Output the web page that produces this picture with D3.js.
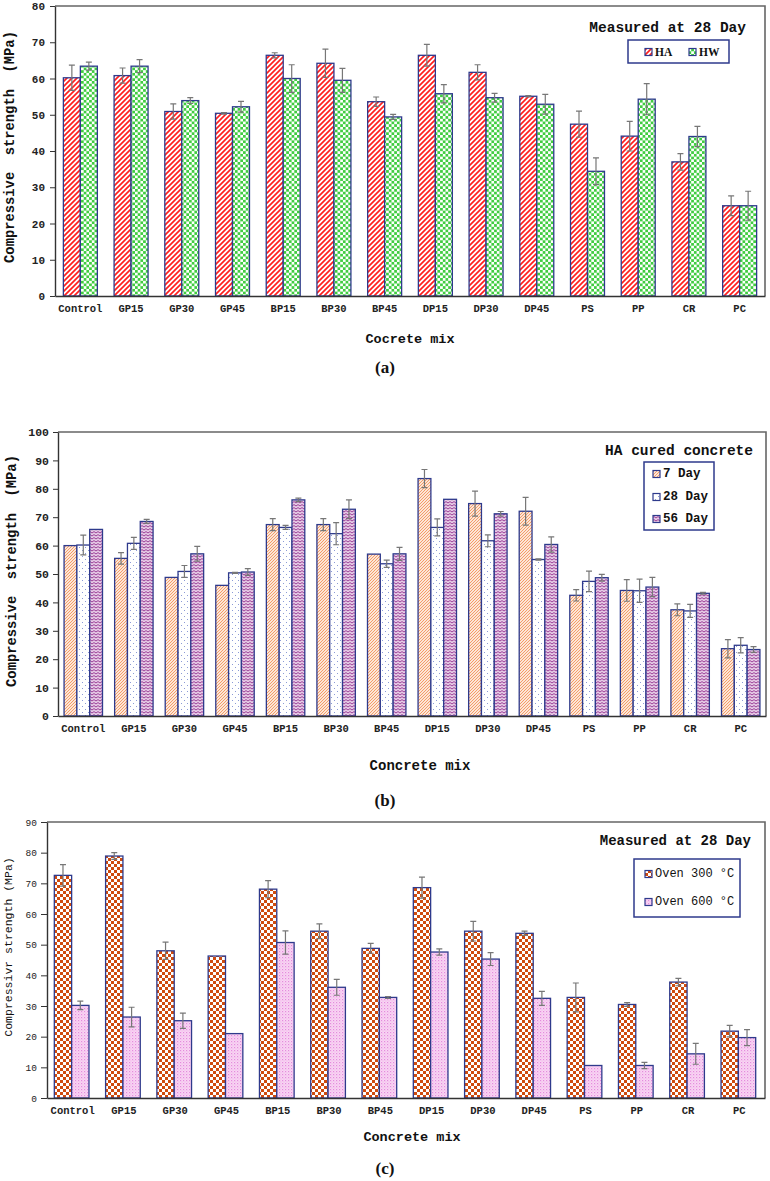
<!DOCTYPE html>
<html><head><meta charset="utf-8">
<script src="https://cdn.jsdelivr.net/npm/d3@7"></script>
<style>html,body{margin:0;padding:0;background:#fff;}svg{display:block;}</style>
</head><body>
<svg id="chart" width="770" height="1181"></svg>
<script>
// ---------- DATA ----------
const categories = ["Control","GP15","GP30","GP45","BP15","BP30","BP45","DP15","DP30","DP45","PS","PP","CR","PC"];

// (a) Measured at 28 Day
const seriesA = ["HA","HW"];
const haValues = [60.2,60.8,50.9,50.4,66.4,64.2,53.6,66.4,61.7,55.1,47.4,44.1,37.0,24.9];
const haErrors = [3.5,2.1,2.1,0.2,0.7,3.9,1.3,3.0,2.1,0.2,3.6,4.1,2.3,2.7];
const hwValues = [63.4,63.4,53.9,52.2,60.0,59.5,49.4,55.8,54.7,52.9,34.4,54.3,44.0,24.9];
const hwErrors = [1.1,1.8,0.8,1.5,3.8,3.3,0.7,2.5,1.2,2.7,3.7,4.3,2.8,4.0];
const ticksA = [0,10,20,30,40,50,60,70,80];

// (b) HA cured concrete
const seriesB = ["7 Day","28 Day","56 Day"];
const day7Values = [60.0,55.5,48.8,46.0,67.4,67.4,57.0,83.6,74.8,72.1,42.5,44.2,37.4,23.7];
const day7Errors = [0,2.0,0,0,2.1,2.1,0,3.2,4.4,4.9,2.0,3.8,2.1,3.2];
const day28Values = [60.2,60.8,50.9,50.4,66.4,64.2,53.6,66.4,61.7,55.1,47.4,44.1,37.0,24.9];
const day28Errors = [3.5,2.1,2.1,0.2,0.7,3.9,1.3,3.0,2.1,0.2,3.6,4.1,2.3,2.7];
const day56Values = [65.7,68.5,57.1,50.7,76.1,72.8,57.1,76.3,71.2,60.4,48.7,45.4,43.2,23.4];
const day56Errors = [0,0.7,2.6,1.2,0.6,3.3,2.3,0,0.8,2.7,1.2,3.4,0.3,1.0];
const ticksB = [0,10,20,30,40,50,60,70,80,90,100];

// (c) Measured at 28 Day, oven
const seriesC = ["Oven 300 °C","Oven 600 °C"];
const oven300Values = [72.6,78.9,48.0,46.3,68.1,54.4,48.8,68.6,54.4,53.7,32.8,30.5,37.8,21.8];
const oven300Errors = [3.5,1.1,2.8,0,2.8,2.4,1.6,3.4,3.2,0.7,4.7,0.6,1.2,1.9];
const oven600Values = [30.2,26.4,25.2,21.0,50.7,36.1,32.8,47.6,45.3,32.5,10.6,10.6,14.4,19.7];
const oven600Errors = [1.4,3.2,2.5,0,3.8,2.6,0.3,1.0,2.1,2.3,0,1.0,3.4,2.6];
const ticksC = [0,10,20,30,40,50,60,70,80,90];

// ---------- PATTERNS ----------
const svg = d3.select("#chart");
const defs = svg.append("defs");
function pat(id, w, h, draw){
  const p = defs.append("pattern").attr("id", id).attr("patternUnits","userSpaceOnUse")
    .attr("width", w).attr("height", h);
  draw(p);
}
// red diagonal stripes
pat("pHA", 5, 5, p => {
  p.append("rect").attr("width",5).attr("height",5).attr("fill","#fff");
  p.append("path").attr("d","M-1,6 L6,-1 M-1,1 L1,-1 M4,6 L6,4").attr("stroke","#ff1f1f").attr("stroke-width",1.7);
});
// green checker
pat("pHW", 5.4, 5.4, p => {
  p.append("rect").attr("width",5.4).attr("height",5.4).attr("fill","#fff");
  p.append("rect").attr("width",2.7).attr("height",2.7).attr("fill","#40cc40");
  p.append("rect").attr("x",2.7).attr("y",2.7).attr("width",2.7).attr("height",2.7).attr("fill","#40cc40");
});
// orange fine hatch
pat("p7", 3, 3, p => {
  p.append("rect").attr("width",3).attr("height",3).attr("fill","#fde6d6");
  p.append("path").attr("d","M-1,4 L4,-1 M-1,1 L1,-1 M2,4 L4,2").attr("stroke","#f2945c").attr("stroke-width",0.9);
});
// sparse blue dots
pat("p28", 6, 6, p => {
  p.append("rect").attr("width",6).attr("height",6).attr("fill","#fff");
  p.append("rect").attr("x",1).attr("y",1).attr("width",1).attr("height",1).attr("fill","#8c9ad6");
  p.append("rect").attr("x",4).attr("y",4).attr("width",1).attr("height",1).attr("fill","#8c9ad6");
});
// purple zigzag
pat("p56", 4, 3, p => {
  p.append("rect").attr("width",4).attr("height",3).attr("fill","#e6cce6");
  p.append("path").attr("d","M0,2 L2,0.6 L4,2").attr("stroke","#9a3c96").attr("stroke-width",1).attr("fill","none");
});
// orange-brown checker
pat("p300", 6, 6, p => {
  p.append("rect").attr("width",6).attr("height",6).attr("fill","#fff");
  p.append("rect").attr("width",3).attr("height",3).attr("fill","#cf4b0e");
  p.append("rect").attr("x",3).attr("y",3).attr("width",3).attr("height",3).attr("fill","#cf4b0e");
});
// pink dotted
pat("p600", 3, 3, p => {
  p.append("rect").attr("width",3).attr("height",3).attr("fill","#f8d6f3");
  p.append("rect").attr("x",0).attr("y",0).attr("width",1.2).attr("height",1.2).attr("fill","#e58ade");
  p.append("rect").attr("x",1.5).attr("y",1.5).attr("width",1).attr("height",1).attr("fill","#f0a6ea");
});

const MONO = "'Liberation Mono','Courier New',monospace";
const SERIF = "'Liberation Serif','Times New Roman',serif";
const NAVY = "#2e3a8c";

function panel(cfg){
  const g = svg.append("g");
  const x = d3.scaleBand().domain(categories).range([cfg.left, cfg.right]).paddingInner(0).paddingOuter(0);
  const y = d3.scaleLinear().domain([0, cfg.max]).range([cfg.bottom, cfg.top]);
  const x1 = d3.scaleBand().domain(cfg.series.map((s,i)=>i)).range([0, x.bandwidth()*cfg.groupFrac]).padding(0);
  const off = x.bandwidth()*(1-cfg.groupFrac)/2 + cfg.shift;

  // frame (top and right)
  g.append("path").attr("d",`M${cfg.left},${cfg.top}H${cfg.right}V${cfg.bottom}`)
    .attr("fill","none").attr("stroke","#666").attr("stroke-width",1.6);

  // bars
  cfg.series.forEach((s, si) => {
    const vals = cfg.values[si];
    g.selectAll(null).data(categories).enter().append("rect")
      .attr("x", d => x(d) + off + x1(si))
      .attr("y", (d,i) => y(vals[i]))
      .attr("width", x1.bandwidth())
      .attr("height", (d,i) => y(0) - y(vals[i]))
      .attr("fill", `url(#${cfg.patterns[si]})`)
      .attr("stroke", NAVY).attr("stroke-width", 1.3);
  });
  // error bars
  cfg.series.forEach((s, si) => {
    const vals = cfg.values[si], errs = cfg.errors[si];
    categories.forEach((c, i) => {
      if (!errs[i]) return;
      const cx = x(c) + off + x1(si) + x1.bandwidth()/2;
      const y1 = y(vals[i] + errs[i]), y2 = y(vals[i] - errs[i]);
      g.append("path").attr("d", `M${cx},${y1}V${y2}M${cx-3},${y1}H${cx+3}M${cx-3},${y2}H${cx+3}`)
        .attr("stroke","#777").attr("stroke-width",1.2).attr("fill","none");
    });
  });

  // y axis
  const ya = g.append("g").attr("transform",`translate(${cfg.left},0)`)
    .call(d3.axisLeft(y).tickValues(cfg.ticks).tickSize(cfg.tickSize).tickPadding(cfg.tickPad).tickSizeOuter(0));
  ya.select(".domain").attr("stroke","#333").attr("stroke-width",1.4);
  ya.selectAll(".tick line").attr("stroke","#333");
  ya.selectAll("text").attr("font-family", MONO).attr("font-size", cfg.tickFont)
    .attr("font-weight", cfg.tickBold ? "bold" : "normal").attr("fill","#222");
  // x axis
  const xa = g.append("g").attr("transform",`translate(0,${cfg.bottom})`)
    .call(d3.axisBottom(x).tickSize(0).tickPadding(cfg.catPad).tickSizeOuter(0));
  xa.select(".domain").attr("stroke","#333").attr("stroke-width",1.6);
  xa.selectAll("text").attr("font-family", MONO).attr("font-size", cfg.catFont)
    .attr("font-weight","bold").attr("fill","#222");

  // axis titles
  g.append("text").attr("transform",`translate(${cfg.yTitleX},${cfg.yTitleY}) rotate(-90)`)
    .attr("text-anchor","middle").attr("dominant-baseline","central")
    .attr("font-family", MONO).attr("font-size", cfg.yTitleFont).style("white-space","pre")
    .attr("font-weight", cfg.yTitleBold ? "bold" : "normal").attr("fill","#111").text(cfg.yTitle);
  g.append("text").attr("x", cfg.xTitleX).attr("y", cfg.xTitleY).attr("text-anchor","middle")
    .attr("font-family", MONO).attr("font-size", cfg.xTitleFont).attr("font-weight","bold").attr("fill","#111")
    .text(cfg.xTitle);
  g.append("text").attr("x", 385).attr("y", cfg.labelY).attr("text-anchor","middle")
    .attr("font-family", SERIF).attr("font-size", 17).attr("font-weight","bold").attr("fill","#111")
    .text(cfg.label);

  // legend
  g.append("text").attr("x", cfg.legTitleX).attr("y", cfg.legTitleY).attr("text-anchor","end")
    .attr("font-family", MONO).attr("font-size", cfg.legTitleFont).attr("font-weight","bold").attr("fill","#111")
    .text(cfg.legTitle);
  const L = cfg.leg;
  g.append("rect").attr("x",L.x).attr("y",L.y).attr("width",L.w).attr("height",L.h)
    .attr("fill","#fff").attr("stroke", NAVY).attr("stroke-width",1.5);
  cfg.series.forEach((s, si) => {
    const ix = L.items[si][0], iy = L.items[si][1];
    g.append("rect").attr("x", ix).attr("y", iy-3.5).attr("width",7).attr("height",7)
      .attr("fill",`url(#${cfg.patterns[si]})`).attr("stroke",NAVY).attr("stroke-width",1.2);
    g.append("text").attr("x", ix+10).attr("y", iy).attr("dominant-baseline","central")
      .attr("font-family", L.font).attr("font-size", L.size).attr("font-weight", L.weight).attr("fill","#111")
      .text(s);
  });
}

panel({
  left:55, right:765, top:6, bottom:296, max:80, ticks:ticksA, groupFrac:0.67, shift:0,
  series:seriesA, values:[haValues,hwValues], errors:[haErrors,hwErrors], patterns:["pHA","pHW"],
  tickSize:5, tickPad:5, tickFont:11, tickBold:true, catPad:9, catFont:10.5,
  yTitle:"Compressive  strength  (MPa)", yTitleX:10, yTitleY:147, yTitleFont:13.8, yTitleBold:true,
  xTitle:"Cocrete mix", xTitleX:410, xTitleY:343, xTitleFont:13.5,
  label:"(a)", labelY:373,
  legTitle:"Measured at 28 Day", legTitleX:746, legTitleY:32, legTitleFont:14.5,
  leg:{x:628,y:40,w:101,h:23, items:[[645,52],[689,52]], font:SERIF, size:11.5, weight:"bold"}
});

panel({
  left:58, right:766, top:432, bottom:716, max:100, ticks:ticksB, groupFrac:0.76, shift:0,
  series:seriesB, values:[day7Values,day28Values,day56Values], errors:[day7Errors,day28Errors,day56Errors], patterns:["p7","p28","p56"],
  tickSize:5, tickPad:4, tickFont:11.5, tickBold:true, catPad:9, catFont:10.5,
  yTitle:"Compressive  strength  (MPa)", yTitleX:12, yTitleY:571, yTitleFont:13.8, yTitleBold:true,
  xTitle:"Concrete mix", xTitleX:420, xTitleY:770, xTitleFont:14,
  label:"(b)", labelY:806,
  legTitle:"HA cured concrete", legTitleX:753, legTitleY:455, legTitleFont:14.5,
  leg:{x:644,y:462,w:70,h:68, items:[[653,474],[653,497],[653,519]], font:MONO, size:12.5, weight:"bold"}
});

panel({
  left:47, right:765, top:822, bottom:1098, max:90, ticks:ticksC, groupFrac:0.676, shift:-1,
  series:seriesC, values:[oven300Values,oven600Values], errors:[oven300Errors,oven600Errors], patterns:["p300","p600"],
  tickSize:6, tickPad:4, tickFont:9.5, tickBold:false, catPad:9, catFont:10.5,
  yTitle:"Compressivr strength (MPa)", yTitleX:8, yTitleY:947, yTitleFont:11.5, yTitleBold:false,
  xTitle:"Concrete mix", xTitleX:412, xTitleY:1141, xTitleFont:13.5,
  label:"(c)", labelY:1174,
  legTitle:"Measured at 28 Day", legTitleX:751, legTitleY:845, legTitleFont:14,
  leg:{x:634,y:859,w:106,h:58, items:[[645,874],[645,902]], font:MONO, size:12, weight:"normal"}
});
</script>
</body></html>
